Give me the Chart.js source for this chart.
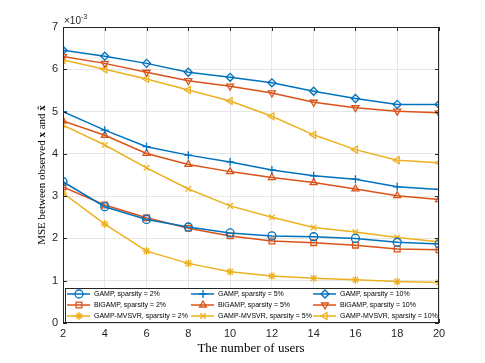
<!DOCTYPE html>
<html>
<head>
<meta charset="utf-8">
<script src="https://cdn.jsdelivr.net/npm/chart.js@4/dist/chart.umd.min.js"></script>
<style>
  html, body { margin: 0; padding: 0; background: #ffffff; }
  #wrap { width: 485px; height: 363px; position: relative; }
</style>
</head>
<body>
<div id="wrap"><canvas id="chart"></canvas></div>
<script>
// number of users on the x axis
const users = [2, 4, 6, 8, 10, 12, 14, 16, 18, 20]

// MSE values, in units of 1e-3
const gamp2 = [3.34, 2.75, 2.45, 2.27, 2.13, 2.06, 2.04, 2.00, 1.91, 1.87]
const gamp5 = [5.00, 4.56, 4.17, 3.97, 3.81, 3.62, 3.48, 3.40, 3.22, 3.16]
const gamp10 = [6.45, 6.31, 6.14, 5.93, 5.81, 5.68, 5.48, 5.31, 5.17, 5.17]
const bigamp2 = [3.22, 2.79, 2.49, 2.24, 2.06, 1.94, 1.90, 1.84, 1.75, 1.73]
const bigamp5 = [4.78, 4.44, 4.01, 3.75, 3.58, 3.44, 3.32, 3.17, 3.01, 2.92]
const bigamp10 = [6.30, 6.14, 5.93, 5.73, 5.60, 5.44, 5.22, 5.09, 5.01, 4.97]
const mvsvr2 = [3.07, 2.34, 1.70, 1.41, 1.21, 1.11, 1.06, 1.02, 0.98, 0.96]
const mvsvr5 = [4.68, 4.21, 3.67, 3.17, 2.77, 2.50, 2.26, 2.15, 2.02, 1.92]
const mvsvr10 = [6.22, 6.00, 5.77, 5.51, 5.25, 4.89, 4.45, 4.10, 3.85, 3.79]

const blue = "#0072BD"
const orange = "#D95319"
const yellow = "#EDB120"
const axisColour = "#262626"

function series(label, values, colour, pointStyle, rotation) {
  return {
    label,
    data: users.map((u, i) => ({ x: u, y: values[i] })),
    borderColor: colour,
    backgroundColor: "rgba(0,0,0,0)",
    borderWidth: 1.5,
    pointStyle,
    pointRotation: rotation || 0,
    pointRadius: 4,
    pointBorderWidth: 1.3,
    pointBorderColor: colour,
    pointBackgroundColor: "rgba(0,0,0,0)",
    tension: 0
  }
}

// in legend order: row by row, three columns
const datasets = [
  series("GAMP, sparsity = 2%", gamp2, blue, "circle"),
  series("GAMP, sparsity = 5%", gamp5, blue, "cross"),
  series("GAMP, sparsity = 10%", gamp10, blue, "rectRot"),
  series("BiGAMP, sparsity = 2%", bigamp2, orange, "rect"),
  series("BiGAMP, sparsity = 5%", bigamp5, orange, "triangle"),
  series("BiGAMP, sparsity = 10%", bigamp10, orange, "triangle", 180),
  series("GAMP-MVSVR, sparsity = 2%", mvsvr2, yellow, "star"),
  series("GAMP-MVSVR, sparsity = 5%", mvsvr5, yellow, "crossRot"),
  series("GAMP-MVSVR, sparsity = 10%", mvsvr10, yellow, "triangle", -90)
]

const frame = {
  id: "matlabFrame",
  afterDraw(chart) {
    const { ctx, chartArea: a, scales } = chart
    ctx.save()

    // box and inward ticks
    ctx.strokeStyle = axisColour
    ctx.lineWidth = 1
    ctx.strokeRect(a.left + 0.5, a.top + 0.5, a.right - a.left - 1, a.bottom - a.top - 1)
    ctx.beginPath()
    scales.x.ticks.forEach((t) => {
      const x = Math.round(scales.x.getPixelForValue(t.value)) + 0.5
      ctx.moveTo(x, a.bottom); ctx.lineTo(x, a.bottom - 4)
      ctx.moveTo(x, a.top); ctx.lineTo(x, a.top + 4)
    })
    scales.y.ticks.forEach((t) => {
      const y = Math.round(scales.y.getPixelForValue(t.value)) + 0.5
      ctx.moveTo(a.left, y); ctx.lineTo(a.left + 4, y)
      ctx.moveTo(a.right, y); ctx.lineTo(a.right - 4, y)
    })
    ctx.stroke()

    // exponent label
    ctx.fillStyle = axisColour
    ctx.textBaseline = "alphabetic"
    ctx.textAlign = "left"
    ctx.font = "10px 'Liberation Sans', Arial, sans-serif"
    ctx.fillText("\u00d710", a.left + 1, 24)
    const w = ctx.measureText("\u00d710").width
    ctx.font = "7px 'Liberation Sans', Arial, sans-serif"
    ctx.fillText("-3", a.left + 1 + w, 19)

    // x title
    ctx.font = "13px 'Liberation Serif', 'DejaVu Serif', serif"
    ctx.textAlign = "center"
    ctx.fillStyle = "#000000"
    ctx.fillText("The number of users", (a.left + a.right) / 2, 352)

    // y title, rotated, with bold vectors
    const parts = [
      ["MSE between observed ", "normal"],
      ["x", "bold"],
      [" and ", "normal"],
      ["x\u0302", "bold"]
    ]
    const fontFor = (weight) => `${weight} 11px 'Liberation Serif', 'DejaVu Serif', serif`
    let total = 0
    parts.forEach(([t, wgt]) => { ctx.font = fontFor(wgt); total += ctx.measureText(t).width })
    ctx.translate(45, (a.top + a.bottom) / 2)
    ctx.rotate(-Math.PI / 2)
    ctx.textAlign = "left"
    let cx = -total / 2
    parts.forEach(([t, wgt]) => {
      ctx.font = fontFor(wgt)
      ctx.fillText(t, cx, 0)
      cx += ctx.measureText(t).width
    })
    ctx.restore()

    // legend box inside the axes
    ctx.save()
    const box = { left: a.left + 2, top: 288, right: a.right - 1, bottom: 322 }
    ctx.fillStyle = "#ffffff"
    ctx.fillRect(box.left, box.top, box.right - box.left, box.bottom - box.top)
    ctx.strokeStyle = axisColour
    ctx.lineWidth = 1
    ctx.strokeRect(box.left + 0.5, box.top + 0.5, box.right - box.left, box.bottom - box.top)
    const colX = [67, 191, 313]
    const rowY = [294, 305, 316]
    ctx.font = "7px 'Liberation Sans', Arial, sans-serif"
    ctx.textBaseline = "middle"
    ctx.textAlign = "left"
    chart.data.datasets.forEach((ds, i) => {
      const x0 = colX[i % 3]
      const y0 = rowY[Math.floor(i / 3)]
      ctx.strokeStyle = ds.borderColor
      ctx.lineWidth = 1.5
      ctx.beginPath()
      ctx.moveTo(x0, y0); ctx.lineTo(x0 + 23, y0)
      ctx.stroke()
      ctx.fillStyle = "rgba(0,0,0,0)"
      ctx.lineWidth = 1.3
      Chart.helpers.drawPoint(ctx, {
        pointStyle: ds.pointStyle, radius: 4, rotation: ds.pointRotation, borderWidth: 1.3
      }, x0 + 12, y0)
      ctx.fillStyle = "#000000"
      ctx.fillText(ds.label, x0 + 27, y0 + 0.5)
    })
    ctx.restore()
  }
}

new Chart(document.getElementById("chart"), {
  type: "line",
  data: { datasets },
  options: {
    responsive: true,
    maintainAspectRatio: false,
    animation: false,
    layout: { padding: { top: 27, right: 46, left: 0, bottom: 0 } },
    plugins: { legend: { display: false }, tooltip: { enabled: false } },
    scales: {
      x: {
        type: "linear",
        min: 2,
        max: 20,
        afterFit: (s) => { s.height = 40 },
        ticks: { stepSize: 2, color: axisColour, padding: 4, font: { size: 11, family: "'Liberation Sans', Arial, sans-serif" } },
        grid: { color: "#e6e6e6", drawTicks: false },
        border: { display: false }
      },
      y: {
        min: 0,
        max: 7,
        afterFit: (s) => { s.width = 63 },
        ticks: { stepSize: 1, color: axisColour, padding: 5, font: { size: 11, family: "'Liberation Sans', Arial, sans-serif" } },
        grid: { color: "#e6e6e6", drawTicks: false },
        border: { display: false }
      }
    }
  },
  plugins: [frame]
})
</script>
</body>
</html>
